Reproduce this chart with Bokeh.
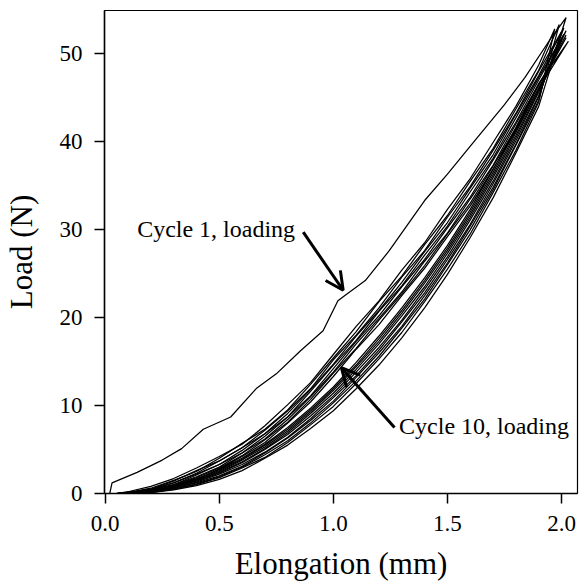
from bokeh.plotting import figure
from bokeh.models import Range1d, Label, Arrow, OpenHead, FixedTicker, NumeralTickFormatter
from bokeh.embed import file_html
from bokeh.resources import INLINE

# ---------------- data ----------------
X = [0.05, 0.1, 0.2, 0.3, 0.4, 0.5, 0.6, 0.7, 0.8, 0.9, 1.0, 1.1, 1.2, 1.3, 1.4, 1.5, 1.6, 1.7, 1.8, 1.9]

# Cycle 1 loading (own sampling)
c1_load_x = [0.02, 0.03, 0.14, 0.25, 0.335, 0.43, 0.55, 0.665, 0.75, 0.855, 0.955, 1.02, 1.055, 1.14, 1.245, 1.40, 1.50, 1.62, 1.75, 1.84, 1.955]
c1_load_y = [0.0, 1.2, 2.4, 3.8, 5.1, 7.3, 8.7, 12.0, 13.6, 16.2, 18.5, 21.9, 22.6, 24.2, 27.6, 33.3, 36.3, 40.1, 44.2, 47.3, 51.8]

# Loading curves, cycles 2..10 (at X)
c2_load = [0.0, 0.2, 0.8, 1.7, 2.9, 4.2, 5.6, 7.7, 10.1, 12.6, 15.8, 19.0, 21.9, 25.4, 28.5, 32.3, 35.8, 39.9, 44.0, 48.7]
c3_load = [0.0, 0.1, 0.6, 1.5, 2.5, 4.0, 5.7, 7.3, 9.5, 12.4, 15.4, 18.4, 21.8, 24.7, 28.3, 31.6, 35.5, 39.2, 43.7, 48.1]
c4_load = [0.0, 0.1, 0.5, 1.4, 2.6, 3.7, 5.2, 7.2, 9.4, 11.9, 15.2, 18.0, 21.1, 24.6, 27.6, 31.4, 34.9, 39.0, 43.2, 48.0]
c5_load = [0.0, 0.1, 0.5, 1.2, 2.3, 3.7, 5.2, 6.8, 9.1, 11.8, 14.7, 17.9, 20.8, 24.0, 27.5, 30.8, 34.7, 38.5, 43.1, 47.5]
c6_load = [0.0, 0.0, 0.4, 1.2, 2.2, 3.3, 4.9, 6.8, 8.7, 11.6, 14.6, 17.4, 20.7, 23.6, 27.1, 30.4, 34.3, 38.1, 42.7, 47.3]
c7_load = [0.0, 0.0, 0.4, 1.0, 2.1, 3.3, 4.6, 6.5, 8.7, 11.1, 14.2, 17.3, 20.2, 23.5, 26.6, 30.2, 33.7, 37.9, 42.2, 47.0]
c8_load = [0.0, 0.0, 0.3, 1.0, 1.9, 3.0, 4.6, 6.2, 8.4, 11.0, 13.8, 17.0, 19.9, 22.9, 26.4, 29.6, 33.5, 37.3, 42.0, 46.5]
c9_load = [0.0, 0.0, 0.3, 0.9, 1.8, 2.9, 4.3, 6.1, 8.1, 10.7, 13.7, 16.5, 19.7, 22.7, 25.9, 29.5, 33.0, 37.2, 41.5, 46.4]
c10_load = [0.0, 0.0, 0.2, 0.8, 1.6, 2.8, 4.2, 5.8, 8.0, 10.4, 13.3, 16.4, 19.2, 22.5, 25.6, 29.2, 32.7, 36.9, 41.2, 46.0]

# Peak of each cycle (cycles 1..10)
peak_x = [2.02, 1.97, 1.99, 2.00, 2.01, 2.01, 2.02, 2.02, 2.02, 2.03]
peak_y = [54.1, 52.8, 53.3, 52.5, 52.9, 52.2, 52.6, 51.8, 52.1, 51.4]

# Unloading curves, cycles 1..10 (at X)
u1 = [0.0, 0.0, 0.1, 0.4, 0.9, 1.6, 2.6, 4.0, 5.5, 7.4, 9.4, 11.9, 14.6, 17.7, 21.1, 24.9, 29.1, 33.6, 38.7, 44.0]
u2 = [0.0, 0.0, 0.1, 0.5, 1.0, 1.8, 2.9, 4.1, 5.8, 7.8, 9.9, 12.5, 15.3, 18.3, 21.8, 25.5, 29.5, 34.2, 39.0, 44.5]
u3 = [0.0, 0.0, 0.2, 0.5, 1.1, 1.9, 3.0, 4.4, 6.0, 8.0, 10.3, 12.8, 15.6, 18.8, 22.1, 26.0, 30.0, 34.5, 39.6, 44.7]
u4 = [0.0, 0.1, 0.2, 0.6, 1.2, 2.0, 3.1, 4.6, 6.3, 8.3, 10.5, 13.2, 16.0, 19.0, 22.5, 26.2, 30.4, 34.8, 39.7, 45.1]
u5 = [0.0, 0.1, 0.2, 0.6, 1.3, 2.2, 3.3, 4.7, 6.4, 8.5, 10.9, 13.4, 16.3, 19.5, 22.8, 26.6, 30.6, 35.2, 40.1, 45.2]
u6 = [0.0, 0.1, 0.3, 0.7, 1.4, 2.3, 3.5, 5.0, 6.7, 8.8, 11.1, 13.8, 16.6, 19.7, 23.2, 26.9, 31.1, 35.5, 40.4, 45.6]
u7 = [0.0, 0.1, 0.3, 0.8, 1.5, 2.4, 3.6, 5.1, 6.9, 9.1, 11.4, 14.1, 17.0, 20.2, 23.5, 27.3, 31.4, 35.9, 40.7, 45.8]
u8 = [0.0, 0.1, 0.3, 0.8, 1.5, 2.5, 3.8, 5.3, 7.1, 9.3, 11.7, 14.4, 17.3, 20.5, 23.9, 27.6, 31.7, 36.2, 41.0, 46.1]
u9 = [0.0, 0.1, 0.4, 0.9, 1.6, 2.6, 3.9, 5.5, 7.3, 9.5, 11.9, 14.6, 17.6, 20.8, 24.2, 27.9, 32.0, 36.5, 41.3, 46.4]
u10 = [0.0, 0.1, 0.4, 0.9, 1.7, 2.7, 4.0, 5.6, 7.5, 9.7, 12.1, 14.9, 17.9, 21.1, 24.5, 28.2, 32.3, 36.8, 41.6, 46.6]

x_ticks = [0.0, 0.5, 1.0, 1.5, 2.0]
y_ticks = [0, 10, 20, 30, 40, 50]

ann1_text = "Cycle 1, loading"
ann10_text = "Cycle 10, loading"

FONT = "Liberation Serif"

# ---------------- figure ----------------
p = figure(width=582, height=586, output_backend="svg", toolbar_location=None,
           x_range=Range1d(-0.003, 2.07), y_range=Range1d(0, 54.9),
           min_border_left=99, min_border_right=5, min_border_top=10, min_border_bottom=93,
           background_fill_color="white", border_fill_color="white")
p.grid.visible = False
p.outline_line_color = "black"
p.outline_line_width = 1.2

loads = [c2_load, c3_load, c4_load, c5_load, c6_load, c7_load, c8_load, c9_load, c10_load]
unloads = [u1, u2, u3, u4, u5, u6, u7, u8, u9, u10]

xs_all, ys_all = [], []
# cycle 1 loop
xs_all.append(c1_load_x + [peak_x[0]] + X[::-1])
ys_all.append(c1_load_y + [peak_y[0]] + u1[::-1])
for i, ld in enumerate(loads):
    k = i + 1
    xs_all.append(X + [peak_x[k]] + X[::-1])
    ys_all.append(ld + [peak_y[k]] + unloads[k][::-1])

p.multi_line(xs_all, ys_all, line_color="black", line_width=1.25)

# axes
for ax in (p.xaxis[0], p.yaxis[0]):
    ax.axis_line_width = 1.5
    ax.major_tick_line_width = 1.5
    ax.major_tick_out = 10
    ax.major_tick_in = 0
    ax.minor_tick_line_color = None
    ax.major_label_text_font = FONT
    ax.major_label_text_font_size = "23px"
    ax.major_label_text_color = "black"
    ax.axis_label_text_font = FONT
    ax.axis_label_text_font_size = "31px"
    ax.axis_label_text_font_style = "normal"
    ax.axis_label_text_color = "black"

p.xaxis.ticker = FixedTicker(ticks=x_ticks)
p.xaxis.formatter = NumeralTickFormatter(format="0.0")
p.yaxis.ticker = FixedTicker(ticks=y_ticks)
p.xaxis.axis_label = "Elongation (mm)"
p.yaxis.axis_label = "Load (N)"
p.xaxis.major_label_standoff = 12
p.yaxis.major_label_standoff = 12
p.xaxis.axis_label_standoff = 12
p.yaxis.axis_label_standoff = 18

# annotations
p.add_layout(Label(x=0.14, y=28.6, text=ann1_text, text_font=FONT,
                   text_font_size="24px", text_color="black"))
p.add_layout(Label(x=1.288, y=6.25, text=ann10_text, text_font=FONT,
                   text_font_size="24px", text_color="black"))
p.add_layout(Arrow(end=OpenHead(size=18, line_width=3, line_color="black"),
                   x_start=0.868, y_start=29.7, x_end=1.043, y_end=23.1,
                   line_width=3, line_color="black"))
p.add_layout(Arrow(end=OpenHead(size=18, line_width=3, line_color="black"),
                   x_start=1.268, y_start=7.5, x_end=1.035, y_end=14.3,
                   line_width=3, line_color="black"))

open("out.html", "w").write(file_html(p, INLINE))
